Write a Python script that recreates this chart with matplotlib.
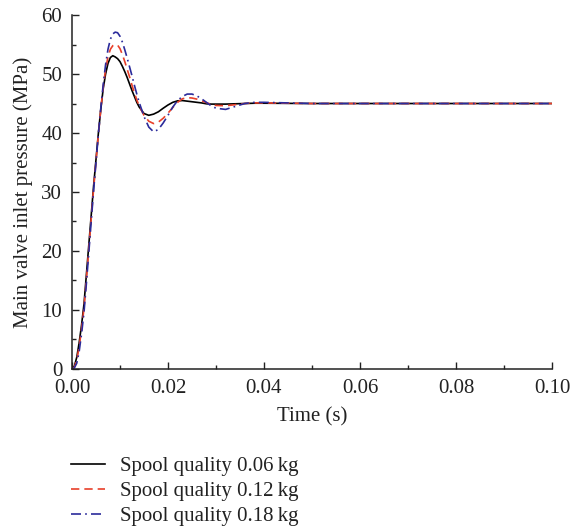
import matplotlib
matplotlib.use("Agg")
import matplotlib.pyplot as plt
from matplotlib.ticker import MultipleLocator

plt.rcParams['font.family'] = ['Liberation Serif', 'DejaVu Serif']

time = [0, 0.0005, 0.001, 0.0015, 0.002, 0.0025, 0.003, 0.0035, 0.004, 0.0045,
        0.005, 0.0055, 0.006, 0.0065, 0.007, 0.0075, 0.008, 0.0085, 0.009, 0.0095,
        0.010, 0.0105, 0.011, 0.0115, 0.012, 0.0125, 0.013, 0.0135, 0.014, 0.015,
        0.016, 0.017, 0.018, 0.019, 0.020, 0.021, 0.022, 0.023, 0.024, 0.025,
        0.026, 0.027, 0.028, 0.029, 0.030, 0.032, 0.034, 0.036, 0.038, 0.040,
        0.05, 0.06, 0.07, 0.08, 0.09, 0.10]

p_006 = [0, 0.5, 2.0, 4.5, 7.5, 11.0, 16.0, 21.0, 26.0, 31.0,
         35.5, 40.0, 44.0, 47.5, 50.0, 51.8, 52.8, 53.1, 52.9, 52.6,
         52.1, 51.3, 50.4, 49.4, 48.3, 47.2, 46.2, 45.2, 44.4, 43.3,
         43.0, 43.2, 43.6, 44.2, 44.75, 45.2, 45.45, 45.5, 45.4, 45.3,
         45.2, 45.1, 44.95, 44.9, 44.9, 44.9, 44.95, 45.0, 45.05, 45.05,
         45.0, 45.0, 45.0, 45.0, 45.0, 45.0]

p_012 = [0, 0.3, 1.5, 3.8, 6.8, 10.3, 15.2, 20.3, 25.5, 30.5,
         35.2, 39.8, 44.0, 47.8, 50.8, 52.9, 54.2, 54.8, 55.0, 54.9,
         54.3, 53.3, 52.1, 50.8, 49.5, 48.1, 46.8, 45.6, 44.6, 43.0,
         42.0, 41.6, 41.85, 42.5, 43.36, 44.33, 45.2, 45.8, 46.0, 45.93,
         45.75, 45.45, 45.15, 44.87, 44.67, 44.62, 44.8, 45.0, 45.1, 45.1,
         45.0, 45.0, 45.0, 45.0, 45.0, 45.0]

p_018 = [0, 0.2, 1.0, 3.0, 6.0, 9.6, 14.5, 19.7, 25.0, 30.2,
         35.0, 39.8, 44.2, 48.2, 51.6, 54.2, 55.9, 56.8, 57.1, 57.0,
         56.4, 55.4, 54.1, 52.7, 51.2, 49.7, 48.1, 46.6, 45.2, 42.8,
         41.0, 40.2, 40.6, 41.7, 43.0, 44.4, 45.5, 46.2, 46.6, 46.6,
         46.3, 45.8, 45.2, 44.6, 44.2, 44.0, 44.5, 45.0, 45.2, 45.2,
         45.0, 45.0, 45.0, 45.0, 45.0, 45.0]

labels = ["Spool quality 0.06\u2009kg", "Spool quality 0.12\u2009kg", "Spool quality 0.18\u2009kg"]
x_ticks = [0.00, 0.02, 0.04, 0.06, 0.08, 0.10]
x_ticklabels = ["0.00", "0.02", "0.04", "0.06", "0.08", "0.10"]
y_ticks = [0, 10, 20, 30, 40, 50, 60]

FS = 15

fig = plt.figure(figsize=(5.70, 5.29), dpi=100)
ax = fig.add_axes([0.1263, 0.3025, 0.8421, 0.6691])

l1, = ax.plot(time, p_006, color='black', lw=1.2, ls='-', label=labels[0])
l2, = ax.plot(time, p_012, color='#e8402a', lw=1.2, ls=(0, (5, 3)), label=labels[1])
l3, = ax.plot(time, p_018, color='#2b2b9b', lw=1.2, ls=(0, (6, 2.5, 1, 2.5)), label=labels[2])

ax.set_xlim(0, 0.10)
ax.set_ylim(0, 60)
ax.set_xticks(x_ticks)
ax.set_xticklabels(x_ticklabels)
ax.set_yticks(y_ticks)
ax.xaxis.set_minor_locator(MultipleLocator(0.01))
ax.yaxis.set_minor_locator(MultipleLocator(5))
ax.tick_params(which='both', direction='in', labelsize=FS, colors='#222222', width=1)
ax.tick_params(which='major', length=5)
ax.tick_params(which='minor', length=3)
ax.tick_params(axis='x', pad=7)
ax.tick_params(axis='y', pad=7)
for s in ['top', 'right']:
    ax.spines[s].set_visible(False)
for s in ['left', 'bottom']:
    ax.spines[s].set_linewidth(1.1)
    ax.spines[s].set_color('#222222')

ax.set_xlabel("Time (s)", fontsize=FS, color='#222222', labelpad=7)
ax.set_ylabel("Main valve inlet pressure (MPa)", fontsize=FS, color='#222222', labelpad=6)

fig.legend(handles=[l1, l2, l3], loc='upper left', bbox_to_anchor=(0.107, 0.157),
           frameon=False, fontsize=FS, handlelength=1.6, handletextpad=0.75,
           labelspacing=0.26, borderpad=0, labelcolor='#222222')

fig.savefig("out.png", dpi=100)
